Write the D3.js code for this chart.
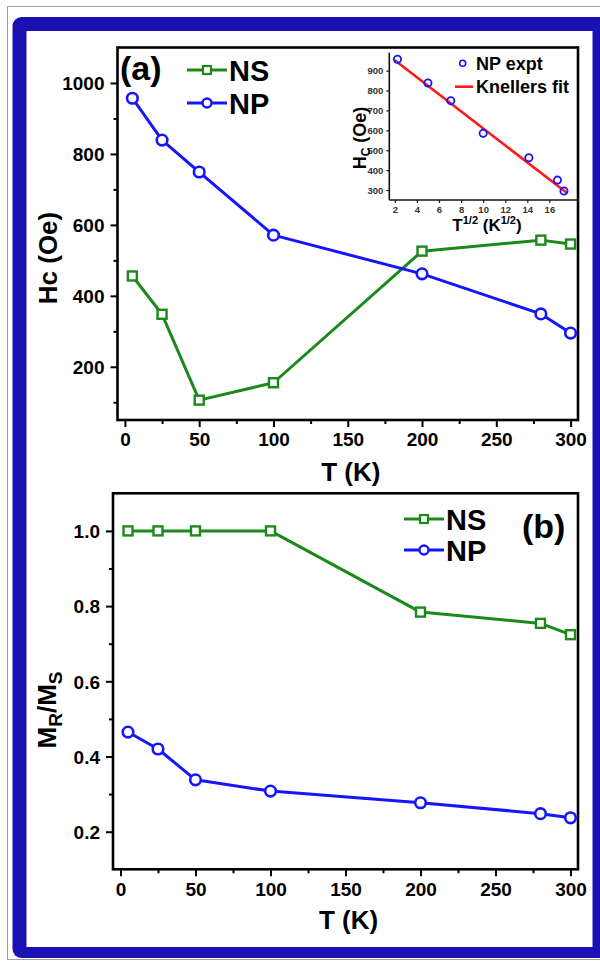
<!DOCTYPE html>
<html>
<head>
<meta charset="utf-8">
<script src="https://cdn.jsdelivr.net/npm/d3@7"></script>
<style>
body { margin: 0; background: #fff; }
svg { display: block; font-family: "Liberation Sans", Arial, sans-serif; font-weight: bold; }
</style>
</head>
<body>
<svg id="chart" width="600" height="964"></svg>
<script>
// temperatures (K)
let temps = [5, 25, 50, 100, 200, 280, 300]
// coercivity Hc (Oe)
let hcNS = [456, 348, 106, 155, 526, 557, 546]
let hcNP = [957, 839, 749, 571, 462, 349, 295]
// remanence ratio MR/MS
let mrNS = [1.0, 1.0, 1.0, 1.0, 0.784, 0.754, 0.724]
let mrNP = [0.465, 0.420, 0.338, 0.308, 0.277, 0.248, 0.237]
// inset: Hc vs T^1/2
let insetX = [2.24, 5.0, 7.07, 10.0, 14.14, 16.73, 17.32]
let insetHc = [957, 838, 749, 585, 462, 350, 295]
let fitX = [2.0, 17.6]
let fitHc = [952, 285]

let tTicks = [0, 50, 100, 150, 200, 250, 300]
let tMinor = [25, 75, 125, 175, 225, 275]
let hcTicks = [200, 400, 600, 800, 1000]
let hcMinor = [100, 300, 500, 700, 900]
let mrTicks = [0.2, 0.4, 0.6, 0.8, 1.0]
let mrMinor = [0.3, 0.5, 0.7, 0.9]
let insetXTicks = [2, 4, 6, 8, 10, 12, 14, 16]
let insetYTicks = [300, 400, 500, 600, 700, 800, 900]

let green = '#1b8a1b'
let blue = '#1515ff'

let svg = d3.select('#chart')

// outer page frame
svg.append('rect').attr('x', 7.5).attr('y', 6.5).attr('width', 620).attr('height', 953)
  .attr('fill', 'none').attr('stroke', '#a0a0a0')
svg.append('rect').attr('x', 12.5).attr('y', 17).attr('width', 620).attr('height', 941)
  .attr('rx', 9).attr('fill', '#1b10b3')
svg.append('rect').attr('x', 26.5).attr('y', 31).attr('width', 566).attr('height', 916)
  .attr('fill', '#fff')

let styleAxis = (g, size) => {
  g.select('.domain').remove()
  g.selectAll('line').attr('stroke', '#000').attr('stroke-width', 2)
  g.selectAll('text').attr('font-size', size).attr('font-family', null).attr('fill', '#000')
}

let drawPanel = (p) => {
  let x = d3.scaleLinear().domain([-5, 305]).range([p.left, p.right])
  let y = d3.scaleLinear().domain(p.yDomain).range([p.bottom, p.top])

  svg.append('g').attr('transform', `translate(0,${p.bottom})`)
    .call(d3.axisBottom(x).tickValues(tMinor).tickSize(4).tickSizeOuter(0).tickFormat(''))
    .call(g => styleAxis(g, 19))
  svg.append('g').attr('transform', `translate(0,${p.bottom})`)
    .call(d3.axisBottom(x).tickValues(tTicks).tickSize(7).tickSizeOuter(0).tickPadding(6))
    .call(g => styleAxis(g, 19))

  svg.append('g').attr('transform', `translate(${p.left},0)`)
    .call(d3.axisLeft(y).tickValues(p.yMinor).tickSize(4).tickSizeOuter(0).tickFormat(''))
    .call(g => styleAxis(g, 19))
  svg.append('g').attr('transform', `translate(${p.left},0)`)
    .call(d3.axisLeft(y).tickValues(p.yTicks).tickSize(7).tickSizeOuter(0).tickPadding(6).tickFormat(p.fmt))
    .call(g => g.selectAll('text').attr('dy', '0.36em'))
    .call(g => styleAxis(g, 19))

  svg.append('rect').attr('x', p.left).attr('y', p.top)
    .attr('width', p.right - p.left).attr('height', p.bottom - p.top)
    .attr('fill', 'none').attr('stroke', '#000').attr('stroke-width', 2.6)

  svg.append('text').attr('x', (p.left + p.right) / 2 + 3).attr('y', p.xTitleY)
    .attr('text-anchor', 'middle').attr('font-size', 26).text('T (K)')

  let line = d3.line().x((d, i) => x(temps[i])).y(d => y(d))
  let series = [
    { vals: p.ns, color: green, shape: 'square' },
    { vals: p.np, color: blue, shape: 'circle' }
  ]
  series.forEach(s => {
    svg.append('path').datum(s.vals).attr('d', line)
      .attr('fill', 'none').attr('stroke', s.color).attr('stroke-width', 3).attr('stroke-linejoin', 'round')
    if (s.shape === 'square') {
      svg.append('g').selectAll('rect').data(s.vals).enter().append('rect')
        .attr('x', (d, i) => x(temps[i]) - 4.5).attr('y', d => y(d) - 4.5)
        .attr('width', 9).attr('height', 9)
        .attr('fill', '#fff').attr('stroke', s.color).attr('stroke-width', 2.4)
    } else {
      svg.append('g').selectAll('circle').data(s.vals).enter().append('circle')
        .attr('cx', (d, i) => x(temps[i])).attr('cy', d => y(d)).attr('r', 5.3)
        .attr('fill', '#fff').attr('stroke', s.color).attr('stroke-width', 2.6)
    }
  })

  // legend
  let L = p.legend
  svg.append('line').attr('x1', L.x).attr('x2', L.x + 40).attr('y1', L.y1).attr('y2', L.y1)
    .attr('stroke', green).attr('stroke-width', 3)
  svg.append('rect').attr('x', L.x + 16).attr('y', L.y1 - 4).attr('width', 8).attr('height', 8)
    .attr('fill', '#fff').attr('stroke', green).attr('stroke-width', 2.2)
  svg.append('text').attr('x', L.x + 42).attr('y', L.y1 + 11).attr('font-size', L.size).text('NS')
  svg.append('line').attr('x1', L.x).attr('x2', L.x + 40).attr('y1', L.y2).attr('y2', L.y2)
    .attr('stroke', blue).attr('stroke-width', 3)
  svg.append('circle').attr('cx', L.x + 20).attr('cy', L.y2).attr('r', 4.5)
    .attr('fill', '#fff').attr('stroke', blue).attr('stroke-width', 2.4)
  svg.append('text').attr('x', L.x + 42).attr('y', L.y2 + 11).attr('font-size', L.size).text('NP')

  svg.append('text').attr('x', p.tag.x).attr('y', p.tag.y).attr('font-size', 34).text(p.tag.text)

  return { x, y }
}

drawPanel({
  left: 117.5, right: 578, top: 47.5, bottom: 420,
  yDomain: [50, 1100], yTicks: hcTicks, yMinor: hcMinor, fmt: d3.format('d'),
  ns: hcNS, np: hcNP, xTitleY: 481,
  legend: { x: 187, y1: 70, y2: 103, size: 29 },
  tag: { x: 120, y: 80, text: '(a)' }
})

drawPanel({
  left: 113, right: 578, top: 493.3, bottom: 869.3,
  yDomain: [0.1, 1.1], yTicks: mrTicks, yMinor: mrMinor, fmt: d3.format('.1f'),
  ns: mrNS, np: mrNP, xTitleY: 929,
  legend: { x: 404, y1: 519, y2: 550, size: 29 },
  tag: { x: 522, y: 538, text: '(b)' }
})

// y titles
svg.append('text').attr('transform', 'translate(57,258) rotate(-90)')
  .attr('text-anchor', 'middle').attr('font-size', 26).text('Hc (Oe)')
let mt = svg.append('text').attr('transform', 'translate(56,710) rotate(-90)')
  .attr('text-anchor', 'middle').attr('font-size', 26)
mt.append('tspan').text('M')
mt.append('tspan').attr('font-size', 19).attr('dy', 6).text('R')
mt.append('tspan').attr('dy', -6).text('/M')
mt.append('tspan').attr('font-size', 19).attr('dy', 6).text('S')

// inset
let ix = d3.scaleLinear().domain([1.5, 18.5]).range([389.3, 577])
let iy = d3.scaleLinear().domain([250, 990]).range([200, 52.7])

svg.append('g').attr('transform', 'translate(0,200)')
  .call(d3.axisBottom(ix).tickValues(insetXTicks).tickSize(3).tickSizeOuter(0).tickPadding(3))
  .call(g => { g.select('.domain').remove(); g.selectAll('line').attr('stroke', '#222').attr('stroke-width', 1.2); g.selectAll('text').attr('font-size', 9.5).attr('font-family', null).attr('fill', '#333') })
svg.append('g').attr('transform', 'translate(389.3,0)')
  .call(d3.axisLeft(iy).tickValues(insetYTicks).tickSize(3).tickSizeOuter(0).tickPadding(3))
  .call(g => { g.select('.domain').remove(); g.selectAll('line').attr('stroke', '#222').attr('stroke-width', 1.2); g.selectAll('text').attr('font-size', 9.5).attr('font-family', null).attr('fill', '#333') })
svg.append('line').attr('x1', 389.3).attr('x2', 577).attr('y1', 200).attr('y2', 200)
  .attr('stroke', '#111').attr('stroke-width', 1.6)
svg.append('line').attr('x1', 389.3).attr('x2', 389.3).attr('y1', 52.7).attr('y2', 200)
  .attr('stroke', '#111').attr('stroke-width', 1.6)

svg.append('path').datum(fitX).attr('d', d3.line().x(d => ix(d)).y((d, i) => iy(fitHc[i])))
  .attr('stroke', '#ff1a1a').attr('stroke-width', 2.6).attr('fill', 'none')
svg.append('g').selectAll('circle').data(insetHc).enter().append('circle')
  .attr('cx', (d, i) => ix(insetX[i])).attr('cy', d => iy(d)).attr('r', 3.6)
  .attr('fill', 'none').attr('stroke', blue).attr('stroke-width', 1.8)

svg.append('circle').attr('cx', 462.7).attr('cy', 63.3).attr('r', 3)
  .attr('fill', 'none').attr('stroke', blue).attr('stroke-width', 1.6)
svg.append('text').attr('x', 476).attr('y', 69.5).attr('font-size', 18).text('NP expt')
svg.append('line').attr('x1', 455).attr('x2', 473).attr('y1', 86.7).attr('y2', 86.7)
  .attr('stroke', '#ff1a1a').attr('stroke-width', 2.6)
svg.append('text').attr('x', 476).attr('y', 93).attr('font-size', 18).text('Knellers fit')

let it = svg.append('text').attr('transform', 'translate(366,138) rotate(-90)')
  .attr('text-anchor', 'middle').attr('font-size', 18)
it.append('tspan').text('H')
it.append('tspan').attr('font-size', 12).attr('dy', 4).text('C')
it.append('tspan').attr('dy', -4).text(' (Oe)')

let xt = svg.append('text').attr('x', 487).attr('y', 231).attr('text-anchor', 'middle').attr('font-size', 17)
xt.append('tspan').text('T')
xt.append('tspan').attr('font-size', 11).attr('dy', -7).text('1/2')
xt.append('tspan').attr('dy', 7).text(' (K')
xt.append('tspan').attr('font-size', 11).attr('dy', -7).text('1/2')
xt.append('tspan').attr('dy', 7).text(')')
</script>
</body>
</html>
